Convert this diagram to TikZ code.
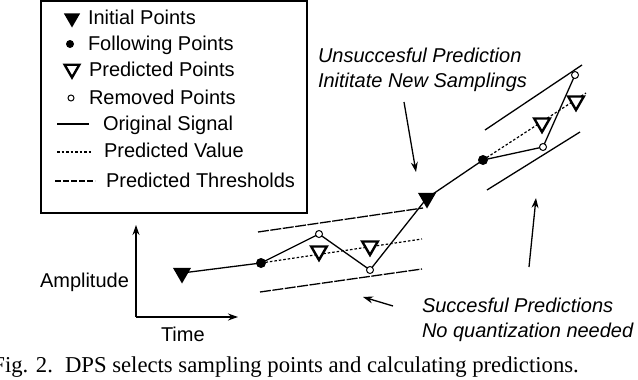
\documentclass[tikz,border=0pt]{standalone}
\usepackage{fontspec}
\setmainfont{Liberation Sans}
\newfontfamily\capfont{Liberation Serif}
\usetikzlibrary{shapes.geometric,arrows.meta}
\tikzset{
  lbl/.style={inner sep=0pt, outer sep=0pt, anchor=base west, font=\fontsize{20}{24}\selectfont},
  ilbl/.style={lbl, font=\fontsize{20}{24}\selectfont\itshape},
  initpt/.style={regular polygon, regular polygon sides=3, shape border rotate=180, fill=black, draw=none, minimum size=#1, inner sep=0pt, outer sep=0pt},
  initpt/.default=21,
  predpt/.style={regular polygon, regular polygon sides=3, shape border rotate=180, fill=white, draw=black, line width=2.4pt, minimum size=#1, inner sep=0pt, outer sep=0pt},
  predpt/.default=18,
  follpt/.style={circle, fill=black, minimum size=#1, inner sep=0pt, outer sep=0pt},
  follpt/.default=10pt,
  rempt/.style={circle, fill=white, draw=black, line width=1pt, minimum size=7pt, inner sep=0pt, outer sep=0pt},
  sig/.style={line width=1.3pt},
  predline/.style={line width=1.2pt, dash pattern=on 2.5pt off 2pt},
  thresh/.style={line width=1.3pt, dash pattern=on 11pt off 1.5pt},
  thresh2/.style={line width=1.3pt},
  arr/.style={line width=1.3pt, -{Stealth[length=10pt,width=7pt]}},
}
\begin{document}
\begin{tikzpicture}[x=1pt,y=-1pt]
\clip (0,0) rectangle (638,380);
\useasboundingbox (0,0) rectangle (638,380);

% Legend box
\draw[line width=1.5pt] (41,1) rectangle (307,213);
\node[initpt=19] (li) at (72,18) {};
\node[lbl] (lit) at (88,24) {Initial Points};
\node[follpt=8pt] (lf) at (70,44) {};
\node[lbl] (lft) at (88,50) {Following Points};
\node[predpt=17] (lp) at (72,69) {};
\node[lbl] (lpt) at (89,76) {Predicted Points};
\node[rempt, minimum size=6pt] (lr) at (71,98) {};
\node[lbl] (lrt) at (89,104) {Removed Points};
\coordinate (ls1) at (57,124); \coordinate (ls2) at (89,124);
\draw[sig] (ls1) -- (ls2);
\node[lbl] (lst) at (103,130) {Original Signal};
\coordinate (lv1) at (57,152); \coordinate (lv2) at (91,152);
\draw[predline] (lv1) -- (lv2);
\node[lbl] (lvt) at (104,157) {Predicted Value};
\coordinate (lt1) at (55,181); \coordinate (lt2) at (95,181);
\draw[line width=1.2pt, dash pattern=on 6pt off 2pt] (lt1) -- (lt2);
\node[lbl] (ltt) at (106,187) {Predicted Thresholds};

% Axes
\coordinate (ax0) at (136,317);
\coordinate (axy) at (136,225);
\coordinate (axx) at (238,317);
\draw[arr] (ax0) -- (axy);
\draw[arr] (ax0) -- (axx);
\node[lbl] (amp) at (40,287) {Amplitude};
\node[lbl] (time) at (161,341) {Time};

% Thresholds
\coordinate (u1a) at (258,232); \coordinate (u1b) at (423,208);
\coordinate (l1a) at (260,292); \coordinate (l1b) at (422,269);
\draw[thresh] (u1a) -- (u1b);
\draw[thresh] (l1a) -- (l1b);
\coordinate (u2a) at (485,130); \coordinate (u2b) at (582,65);
\coordinate (l2a) at (487,190); \coordinate (l2b) at (580,132);
\draw[thresh2] (u2a) -- (u2b);
\draw[thresh2] (l2a) -- (l2b);

% Points
\coordinate (t1) at (182,273);
\coordinate (d1) at (261,263);
\coordinate (c1) at (319,234);
\coordinate (c2) at (370,270);
\coordinate (t2) at (427,198);
\coordinate (d2) at (483,160);
\coordinate (c3) at (543,147);
\coordinate (c4) at (575,75);
\coordinate (v1e) at (422,239);
\coordinate (v2e) at (586,93);

% Predicted lines
\draw[predline] (d1) -- (v1e);
\draw[predline] (d2) -- (v2e);
% Original signal
\draw[sig] (t1) -- (d1) -- (c1) -- (c2) -- (t2) -- (d2) -- (c3) -- (c4);

% Markers
\node[initpt] (T1) at (t1) {};
\node[initpt] (T2) at (t2) {};
\node[follpt] (D1) at (d1) {};
\node[follpt] (D2) at (d2) {};
\node[rempt] (C1) at (c1) {};
\node[rempt] (C2) at (c2) {};
\node[rempt] (C3) at (c3) {};
\node[rempt] (C4) at (c4) {};
\node[predpt] (P1) at (319,251) {};
\node[predpt] (P2) at (370,246) {};
\node[predpt] (P3) at (542,123) {};
\node[predpt] (P4) at (576,101) {};

% Annotations
\node[ilbl] (un1) at (318,62) {Unsuccesful Prediction};
\node[ilbl] (un2) at (318,87) {Inititate New Samplings};
\coordinate (a1s) at (404,102); \coordinate (a1e) at (416,172);
\draw[arr] (a1s) -- (a1e);
\node[ilbl] (su1) at (422,312) {Succesful Predictions};
\node[ilbl] (su2) at (422,337) {No quantization needed};
\coordinate (a2s) at (529,267); \coordinate (a2e) at (536,198);
\draw[arr] (a2s) -- (a2e);
\coordinate (a3s) at (393,306); \coordinate (a3e) at (363,297);
\draw[arr] (a3s) -- (a3e);

% Caption
\node[inner sep=0pt, outer sep=0pt, anchor=base east, font=\capfont\fontsize{22.7}{26}\selectfont] (fig) at (53,372) {Fig. 2.};
\node[inner sep=0pt, outer sep=0pt, anchor=base west, font=\capfont\fontsize{22.7}{26}\selectfont] (cap) at (65,372) {DPS selects sampling points and calculating predictions.};
\end{tikzpicture}
\end{document}
